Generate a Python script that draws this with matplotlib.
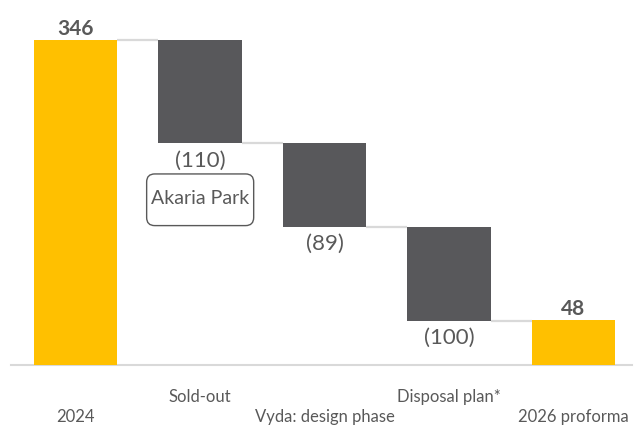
import matplotlib
matplotlib.use("Agg")
import matplotlib.pyplot as plt
from matplotlib.patches import FancyBboxPatch
from matplotlib.transforms import blended_transform_factory

# waterfall data
categories = ["2024", "Sold-out", "Vyda: design phase", "Disposal plan*", "2026 proforma"]
start_value = 346
changes = [-110, -89, -100]
end_value = 48
value_labels = ["346", "(110)", "(89)", "(100)", "48"]
label_rows = [1, 0, 1, 0, 1]  # 0 = upper line, 1 = lower line
note_text = "Akaria Park"

YELLOW = "#FFC000"
GREY = "#58585B"
TEXT = "#595959"
LINE = "#D9D9D9"

plt.rcParams["font.family"] = ["Lato", "DejaVu Sans"]

fig = plt.figure(figsize=(6.43, 4.3), dpi=100)
ax = fig.add_axes([0.0171, 0.151, 0.9658, 0.8256])

width = 0.67
x = list(range(len(categories)))

# bars
bottoms, heights, colors = [0], [start_value], [YELLOW]
level = start_value
for c in changes:
    bottoms.append(level + c)
    heights.append(-c)
    colors.append(GREY)
    level += c
bottoms.append(0)
heights.append(end_value)
colors.append(YELLOW)

ax.bar(x, heights, bottom=bottoms, width=width, color=colors, zorder=3)

# connectors
levels = [start_value]
lv = start_value
for c in changes:
    lv += c
    levels.append(lv)
for i, lv in enumerate(levels):
    ax.plot([x[i] + width / 2, x[i + 1] - width / 2], [lv, lv],
            color=LINE, lw=1.6, zorder=2, solid_capstyle="butt")

# value labels
for i in x:
    if colors[i] == YELLOW:
        ax.annotate(value_labels[i], (x[i], bottoms[i] + heights[i]),
                    xytext=(0, 1), textcoords="offset points",
                    ha="center", va="bottom", fontsize=15,
                    fontweight="bold", color=TEXT)
    else:
        ax.annotate(value_labels[i], (x[i], bottoms[i]),
                    xytext=(0, -5), textcoords="offset points",
                    ha="center", va="top", fontsize=16, color=TEXT)

ax.set_xlim(-0.52, 4.47)
ax.set_ylim(0, 378)

# Akaria Park note box under the first drop
box_w, box_h = 0.86, 55
box_cy = bottoms[1] - 60
xpx = 621 / (4.47 + 0.52)
ypx = 355 / 378
box = FancyBboxPatch((x[1] - box_w / 2, box_cy - box_h / 2), box_w, box_h,
                     boxstyle="round,pad=0,rounding_size=0.065",
                     mutation_aspect=xpx / ypx,
                     fc="white", ec=TEXT, lw=1, zorder=4)
ax.add_patch(box)
ax.text(x[1], box_cy + 1, note_text, ha="center", va="center",
        fontsize=14, color=TEXT, zorder=5)

# category labels, staggered in two rows
trans = blended_transform_factory(ax.transData, ax.transAxes)
for i, name in enumerate(categories):
    ypos = -0.09 if label_rows[i] == 0 else -0.145
    ax.text(x[i], ypos, name, transform=trans, ha="center", va="center",
            fontsize=12, color=TEXT)

for s in ["top", "right", "left"]:
    ax.spines[s].set_visible(False)
ax.spines["bottom"].set_color(LINE)
ax.spines["bottom"].set_linewidth(1.5)
ax.set_xticks([])
ax.set_yticks([])

fig.savefig("out.png", dpi=100)
